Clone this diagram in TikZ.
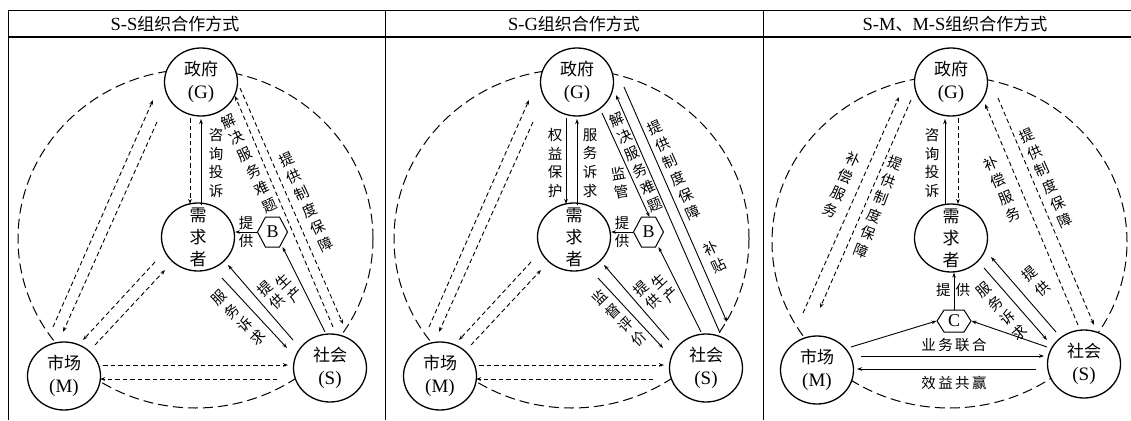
\documentclass[tikz,border=0pt]{standalone}
\usepackage{fontspec}
\setmainfont{Liberation Serif}
\newfontfamily\cjk{Noto Sans CJK SC}
\usetikzlibrary{arrows.meta,calc,shapes.geometric,shapes.symbols}
\newcommand{\zhn}[1]{{\cjk\fontsize{17}{23}\selectfont #1}}
\newcommand{\common}[2]{%
 \draw[big] (#2+195.5,238.6) ellipse [x radius=177.5pt, y radius=169.4pt];
 \node[nd, label={[nt]center:\zhn{政府}\\(G)}] (G#1) at (#2+201,82) {};
 \node[nd, label={[nt,font=\cjk\fontsize{17}{22}\selectfont]center:需\\求\\者}] (Q#1) at (#2+198,237) {};
 \node[nd, label={[nt]center:\zhn{市场}\\(M)}] (M#1) at (#2+64,376) {};
 \node[nd, label={[nt]center:\zhn{社会}\\(S)}] (S#1) at (#2+330,368) {};
 \node[hexb] (B#1) at (#2+272.5,232) {B};
 \draw[dl] ($(M#1)+(-11,-49)$) -- ($(G#1)+(-48,18)$);
 \draw[dl] ($(G#1)+(-44,40)$) -- ($(M#1)+(-1,-44)$);
 \draw[dl] ($(Q#1)+(-43,25)$) -- ($(M#1)+(19,-36)$);
 \draw[dl] ($(M#1)+(31,-31)$) -- ($(Q#1)+(-33,33)$);
 \draw[dl] ($(M#1)+(39,-11)$) -- ($(S#1)+(-42,-3)$);
 \draw[dl] ($(S#1)+(-53,11)$) -- ($(M#1)+(36,3)$);
 \draw[ln] (B#1.west) -- ($(Q#1.east)+(0,-5)$);
 \node[lb] at (#2+246,232) {提\\供};
 \draw[ln] ($(S#1)+(-5,-36)$) -- ($(B#1)+(10,15)$);
 \draw[ln] ($(S#1)+(-37,-28)$) -- ($(Q#1)+(30,28)$);
 \draw[ln] ($(Q#1)+(24,41)$) -- ($(S#1)+(-43,-20)$);
 \node[lb,rotate=43] at (#2+271,295) {提\\供};
 \node[lb,rotate=43] at (#2+289,288) {生\\产};
}
\begin{document}
\begin{tikzpicture}[x=1pt,y=-1pt,
  >={Stealth[length=5pt,width=3.6pt]},
  nd/.style={ellipse, draw, line width=1.3pt, fill=white, minimum width=73pt, minimum height=68pt, inner sep=0pt},
  nt/.style={align=center, inner sep=0pt, font=\fontsize{19}{23}\selectfont},
  hexb/.style={signal, signal to=west and east, signal pointer angle=124, draw, line width=1pt, fill=white, minimum width=30pt, minimum height=30pt, inner sep=1pt, font=\fontsize{18}{18}\selectfont},
  hexc/.style={signal, signal to=west and east, signal pointer angle=115, draw, line width=1pt, fill=white, minimum width=34pt, minimum height=22pt, inner sep=1pt, font=\fontsize{18}{18}\selectfont},
  ln/.style={line width=0.9pt,->},
  dl/.style={line width=0.9pt,->,dash pattern=on 4.5pt off 3pt},
  big/.style={line width=1pt,dash pattern=on 10pt off 5pt},
  lb/.style={font=\cjk\fontsize{14.5}{18.7}\selectfont, align=center, inner sep=0pt},
  ttl/.style={font=\fontsize{18.5}{22}\selectfont, inner sep=0pt},
]
\useasboundingbox (0,0) rectangle (1131,420);
% frame
\draw[line width=1pt] (8,11) -- (1131,11);
\draw[line width=1.3pt] (8,37) -- (1131,37);
\draw[line width=1pt] (8,11) -- (8,420);
\draw[line width=1pt] (385,11) -- (385,420);
\draw[line width=1pt] (763,11) -- (763,420);
\node[ttl] (t1) at (175,24) {S-S{\cjk\fontsize{17}{22}\selectfont 组织合作方式}};
\node[ttl] (t2) at (574,24) {S-G{\cjk\fontsize{17}{22}\selectfont 组织合作方式}};
\node[ttl] (t3) at (955,24) {S-M{\cjk\fontsize{17}{22}\selectfont 、}M-S{\cjk\fontsize{17}{22}\selectfont 组织合作方式}};

% ---------- panel 1 ----------
\common{1}{0}
\draw[dl] ($(G1)+(-11,36)$) -- ($(Q1)+(-8,-33)$);
\draw[ln] ($(Q1)+(3,-32)$) -- ($(G1)+(0,37)$);
\node[lb] at (216,163) {咨\\询\\投\\诉};
\draw[dl] ($(S1)+(3,-41)$) -- ($(G1)+(34,14)$);
\draw[dl] ($(G1)+(39,6)$) -- ($(S1)+(13,-44)$);
\node[lb,rotate=26] at (249,163) {解\\决\\服\\务\\难\\题};
\node[lb,rotate=25] at (306,202) {提\\供\\制\\度\\保\\障};
\node[lb,rotate=44] at (239,318) {服\\务\\诉\\求};

% ---------- panel 2 ----------
\common{2}{376}
\draw[ln] ($(G2)+(-11,36)$) -- ($(Q2)+(-8,-33)$);
\draw[ln] ($(Q2)+(3,-32)$) -- ($(G2)+(0,37)$);
\node[lb] at (376+179,163) {权\\益\\保\\护};
\node[lb] at (376+214,163) {服\\务\\诉\\求};
\draw[ln] ($(G2)+(25,31)$) -- ($(B2)+(1,-15)$);
\draw[ln] ($(S2)+(14,-35)$) -- ($(G2)+(39,13)$);
\draw[ln] ($(G2)+(47,5)$) -- ($(S2)+(21,-46)$);
\node[lb,rotate=10] at (376+244,183) {监\\管};
\node[lb,rotate=24] at (376+260,162) {解\\决\\服\\务\\难\\题};
\node[lb,rotate=24] at (376+298,170) {提\\供\\制\\度\\保\\障};
\node[lb,rotate=25] at (376+339,257) {补\\贴};
\node[lb,rotate=44] at (376+243,318) {监\\督\\评\\价};

% ---------- panel 3 ----------
\draw[big] (949.5,242) ellipse [x radius=177.5pt, y radius=166pt];
\node[nd, label={[nt]center:\zhn{政府}\\(G)}] (G3) at (951,82) {};
\node[nd, label={[nt,font=\cjk\fontsize{17}{22}\selectfont]center:需\\求\\者}] (Q3) at (951,238) {};
\node[nd, label={[nt]center:\zhn{市场}\\(M)}] (M3) at (817,370) {};
\node[nd, label={[nt]center:\zhn{社会}\\(S)}] (S3) at (1084,364) {};
\node[hexc] (C3) at (954,321) {C};
\draw[ln] ($(Q3)+(-6,-33)$) -- ($(G3)+(-6,37)$);
\draw[dl] ($(G3)+(7,36)$) -- ($(Q3)+(7,-34)$);
\node[lb] at (932,163) {咨\\询\\投\\诉};
\draw[dl] ($(M3)+(-14,-57)$) -- ($(G3)+(-52,15)$);
\draw[dl] ($(G3)+(-40,18)$) -- ($(M3)+(3,-62)$);
\node[lb,rotate=-24] at (842,185) {补\\偿\\服\\务};
\node[lb,rotate=-21] at (878,207) {提\\供\\制\\度\\保\\障};
\draw[dl] ($(S3)+(-6,-39)$) -- ($(G3)+(34,22)$);
\draw[dl] ($(G3)+(47,16)$) -- ($(S3)+(10,-39)$);
\node[lb,rotate=23] at (1002,189) {补\\偿\\服\\务};
\node[lb,rotate=24] at (1046,178) {提\\供\\制\\度\\保\\障};
\draw[ln] ($(S3)+(-28,-32)$) -- ($(Q3)+(40,19)$);
\draw[ln] ($(Q3)+(33,30)$) -- ($(S3)+(-37,-24)$);
\node[lb,rotate=40] at (1002,311) {服\\务\\诉\\求};
\node[lb,rotate=40] at (1036,281) {提\\供};
\draw[ln] (C3.north) -- (C3.north |- Q3.south);
\node[lb] at (953,290) {提\hspace{5pt}供};
\draw[ln] ($(M3)+(34,-23)$) -- (C3.west);
\draw[ln] ($(S3)+(-37,-17)$) -- (C3.east);
\draw[ln] ($(M3)+(44,-14)$) -- ($(S3)+(-40,-8)$);
\node[lb] at (954,345) {业\,务\,联\,合};
\draw[ln] ($(S3)+(-48,5)$) -- ($(M3)+(40,-1)$);
\node[lb] at (954,383) {效\,益\,共\,赢};
\end{tikzpicture}
\end{document}
